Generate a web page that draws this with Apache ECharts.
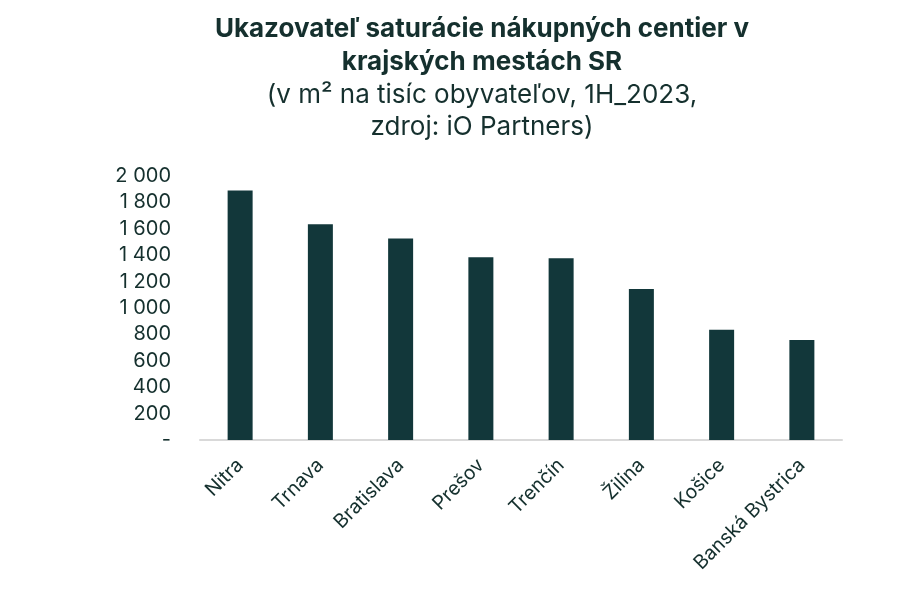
<!DOCTYPE html>
<html>
<head>
<meta charset="utf-8">
<script src="https://cdn.jsdelivr.net/npm/echarts@6/dist/echarts.min.js"></script>
<style>
  html, body { margin: 0; padding: 0; background: #fff; }
  #chart { width: 898px; height: 613px; }
</style>
</head>
<body>
<div id="chart"></div>
<script>
// dáta odčítané z grafu
const cities = ['Nitra', 'Trnava', 'Bratislava', 'Prešov', 'Trenčín', 'Žilina', 'Košice', 'Banská Bystrica'];
const saturation = [1890, 1634, 1526, 1384, 1376, 1144, 835, 757];
const yTicks = [0, 200, 400, 600, 800, 1000, 1200, 1400, 1600, 1800, 2000];

const textColor = '#15302e';
const barColor = '#12373a';

function formatTick(v) {
    if (v === 0) return '-';
    return String(v).replace(/\B(?=(\d{3})+(?!\d))/g, ' ');
}

const chart = echarts.init(document.getElementById('chart'));
chart.setOption({
    animation: false,
    textStyle: { fontFamily: 'Inter' },
    title: {
        text: 'Ukazovateľ saturácie nákupných centier v\nkrajských mestách SR',
        subtext: '(v m² na tisíc obyvateľov, 1H_2023,\nzdroj: iO Partners)',
        left: 477,
        textAlign: 'center',
        top: 8,
        itemGap: 0,
        textStyle: { fontSize: 26, fontWeight: 'bold', color: textColor, lineHeight: 33, fontFamily: 'Inter' },
        subtextStyle: { fontSize: 26, color: textColor, lineHeight: 32, fontFamily: 'Inter' }
    },
    grid: { left: 200, right: 56, top: 176, bottom: 173, containLabel: false },
    xAxis: {
        type: 'category',
        data: cities,
        axisLine: { lineStyle: { color: '#d9d9d9', width: 2 } },
        axisTick: { show: false },
        axisLabel: { rotate: 45, margin: 22, fontSize: 19.5, color: textColor, interval: 0 }
    },
    yAxis: {
        type: 'value',
        min: yTicks[0],
        max: yTicks[yTicks.length - 1],
        interval: 200,
        splitLine: { show: false },
        axisLine: { show: false },
        axisTick: { show: false },
        axisLabel: { margin: 29, fontSize: 20, color: textColor, formatter: formatTick }
    },
    series: [{
        type: 'bar',
        data: saturation,
        barWidth: 25,
        itemStyle: { color: barColor }
    }]
});
</script>
</body>
</html>
